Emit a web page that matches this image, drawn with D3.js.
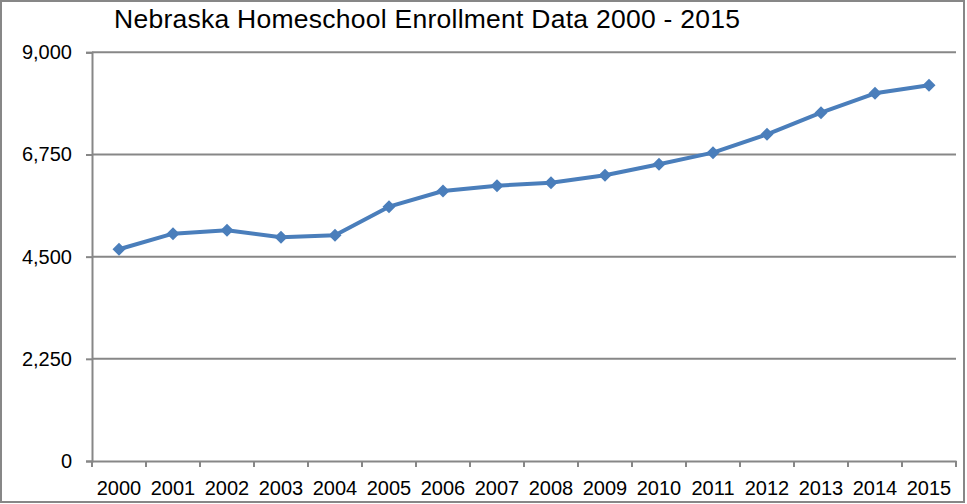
<!DOCTYPE html>
<html>
<head>
<meta charset="utf-8">
<script src="https://cdn.jsdelivr.net/npm/d3@7"></script>
<style>
  body { margin: 0; background: #fff; }
  svg { display: block; font-family: "Liberation Sans", Arial, sans-serif; }
</style>
</head>
<body>
<svg id="chart"></svg>
<script>

// chart data
var years = ["2000","2001","2002","2003","2004","2005","2006","2007",
             "2008","2009","2010","2011","2012","2013","2014","2015"];
var enrollment = [4662, 5006, 5080, 4926, 4970, 5600, 5946, 6063,
                  6129, 6291, 6534, 6790, 7194, 7670, 8097, 8273];
var yTicks = [0, 2250, 4500, 6750, 9000];

var width = 967, height = 504
  , plotLeft = 92, plotRight = 956
  , plotTop = 52.3, plotBottom = 461;

var svg = d3.select("#chart").attr("width", width).attr("height", height);

// outer frame
svg.append("rect")
  .attr("x", 1).attr("y", 1)
  .attr("width", 963).attr("height", 501)
  .attr("fill", "none").attr("stroke", "#878787").attr("stroke-width", 2);

// title
svg.append("text")
  .attr("x", 114).attr("y", 28)
  .attr("font-size", 26.5)
  .attr("textLength", 626)
  .attr("fill", "#000")
  .text("Nebraska Homeschool Enrollment Data 2000 - 2015");

// scales
var x = d3.scaleBand().domain(years).range([plotLeft, plotRight]);
var y = d3.scaleLinear().domain([0, 9000]).range([plotBottom, plotTop]);

// horizontal gridlines
svg.append("g").selectAll("line")
  .data(yTicks.filter(function(d){ return d > 0; }))
  .enter().append("line")
  .attr("x1", plotLeft).attr("x2", plotRight)
  .attr("y1", function(d){ return y(d); })
  .attr("y2", function(d){ return y(d); })
  .attr("stroke", "#878787").attr("stroke-width", 2);

// y axis
var yAxis = d3.axisLeft(y)
  .tickValues(yTicks)
  .tickFormat(d3.format(","))
  .tickSize(6).tickPadding(14);

var gy = svg.append("g")
  .attr("transform", "translate(" + plotLeft + ",0)")
  .call(yAxis);
gy.select(".domain").attr("stroke", "#878787").attr("stroke-width", 2);
gy.selectAll(".tick line").attr("stroke", "#878787").attr("stroke-width", 2);
gy.selectAll("text").attr("font-size", 20).attr("fill", "#000")
  .attr("font-family", "Liberation Sans, Arial, sans-serif");

// x axis with ticks between categories
var xAxis = d3.axisBottom(x).tickSize(0).tickPadding(20);
var gx = svg.append("g")
  .attr("transform", "translate(0," + plotBottom + ")")
  .call(xAxis);
gx.select(".domain").attr("stroke", "#878787").attr("stroke-width", 2);
gx.selectAll("text").attr("font-size", 20).attr("fill", "#000")
  .attr("font-family", "Liberation Sans, Arial, sans-serif");

var edges = years.map(function(d){ return x(d); }).concat([plotRight]);
gx.selectAll(".edge")
  .data(edges)
  .enter().append("line")
  .attr("class", "edge")
  .attr("x1", function(d){ return d; }).attr("x2", function(d){ return d; })
  .attr("y1", 0).attr("y2", 6)
  .attr("stroke", "#878787").attr("stroke-width", 2);

// the line
var data = years.map(function(d, i){ return {x: d, y: enrollment[i]}; });
var line = d3.line()
  .x(function(d){ return x(d.x) + x.bandwidth() / 2; })
  .y(function(d){ return y(d.y); });

svg.append("path")
  .datum(data)
  .attr("d", line)
  .attr("fill", "none")
  .attr("stroke", "#4a7ebb")
  .attr("stroke-width", 4)
  .attr("stroke-linejoin", "round");

// diamond markers
svg.append("g").selectAll("path")
  .data(data)
  .enter().append("path")
  .attr("d", "M0,-6.5L6.5,0L0,6.5L-6.5,0Z")
  .attr("transform", function(d){
    return "translate(" + (x(d.x) + x.bandwidth() / 2) + "," + y(d.y) + ")";
  })
  .attr("fill", "#4a7ebb");

</script>
</body>
</html>
